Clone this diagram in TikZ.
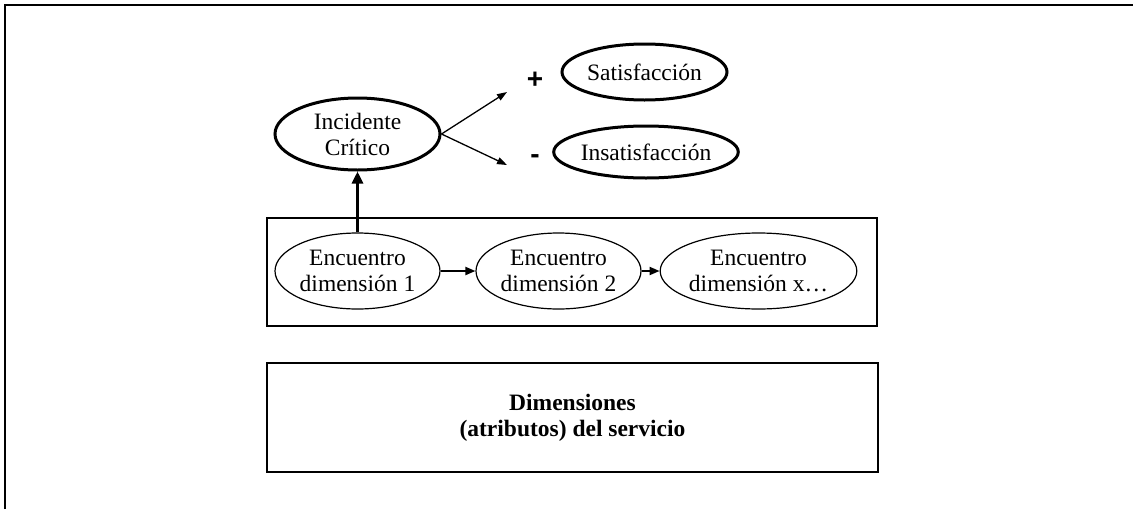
\documentclass[tikz,border=0pt]{standalone}
\usepackage{fontspec}
\setmainfont{Liberation Serif}
\newfontfamily\signfont{Liberation Sans}
\usepackage{tikz}
\usetikzlibrary{shapes.geometric,arrows.meta}

\tikzset{
  bigoval/.style={ellipse, draw, line width=3pt, inner sep=0pt, align=center},
  smalloval/.style={ellipse, draw, line width=1.2pt, inner sep=0pt, align=center,
    minimum width=165, minimum height=76},
  framebox/.style={rectangle, draw, line width=2.5pt, inner sep=0pt, align=center},
  signlabel/.style={font=\signfont\bfseries\fontsize{28}{30}\selectfont}
}

\begin{document}
\begin{tikzpicture}[x=1pt,y=-1pt,font=\fontsize{23.5}{26}\selectfont]
        \useasboundingbox (0,0) rectangle (1133,509);
        % outer frame, only the top and left sides are visible
        \draw[line width=2.5pt] (5,509) -- (5,5) -- (1133,5);

        \node[bigoval, minimum width=165, minimum height=72] (inc)   at (357.5,134) {Incidente\\Crítico};
        \node[bigoval, minimum width=165, minimum height=56] (sat)   at (644.5,72)  {Satisfacción};
        \node[bigoval, minimum width=162, minimum height=52] (insat) at (646,152)   {Insatisfacción};
        \node[signlabel] (plus)  at (535,80)  {+};
        \node[signlabel] (minus) at (535,159) {-};
        \coordinate (satend)   at (507,92);
        \coordinate (insatend) at (507,165);

        \node[framebox, minimum width=610, minimum height=108] (grupo) at (572,272) {};
        \node[smalloval] (enc1) at (357.5,271) {Encuentro\\dimensión 1};
        \node[smalloval] (enc2) at (558.5,271) {Encuentro\\dimensión 2};
        \node[smalloval] (enc3) at (758.5,271) {Encuentro\\dimensión x…};

        \node[framebox, minimum width=611, minimum height=109] (dims) at (572.5,417.5)
             {\textbf{Dimensiones}\\\textbf{(atributos) del servicio}};

        \draw[line width=1.3pt, -{Triangle[length=10pt,width=7pt]}] (inc.east) -- (satend);
        \draw[line width=1.3pt, -{Triangle[length=10pt,width=7pt]}] (inc.east) -- (insatend);
        \draw[line width=2pt, -{Triangle[length=10pt,width=8pt]}] (enc1) -- (enc2);
        \draw[line width=2pt, -{Triangle[length=10pt,width=8pt]}] (enc2) -- (enc3);
        \draw[line width=3.5pt, -{Triangle[length=12pt,width=11pt]}] (enc1.north) -- (inc.south);
\end{tikzpicture}
\end{document}
